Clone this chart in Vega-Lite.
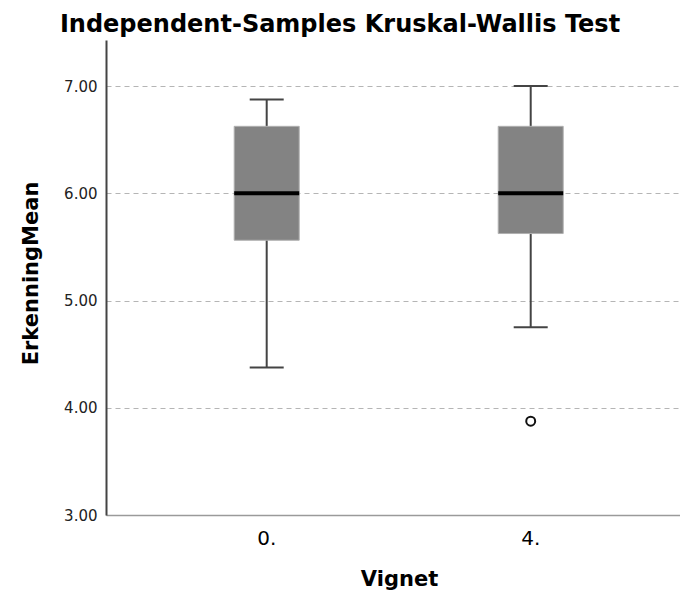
{
  "$schema": "https://vega.github.io/schema/vega-lite/v6.json",
  "autosize": "none",
  "width": 574,
  "height": 475,
  "padding": {"left": 106, "top": 40, "right": 0, "bottom": 77},
  "background": "white",
  "title": {
    "text": "Independent-Samples Kruskal-Wallis Test",
    "font": "DejaVu Sans",
    "fontSize": 24,
    "fontWeight": "bold",
    "color": "#000000",
    "anchor": "middle",
    "baseline": "alphabetic",
    "offset": 8,
    "dx": -53,
    "dy": 24
  },
  "config": {
    "view": {"stroke": null},
    "font": "DejaVu Sans"
  },
  "datasets": {
    "stats": [
      {"Vignet": "0.", "lower": 4.375, "q1": 5.5625, "median": 6.0, "q3": 6.625, "upper": 6.875},
      {"Vignet": "4.", "lower": 4.75, "q1": 5.625, "median": 6.0, "q3": 6.625, "upper": 7.0}
    ],
    "outliers": [
      {"Vignet": "4.", "value": 3.875}
    ]
  },
  "encoding": {
    "x": {
      "field": "Vignet",
      "type": "nominal",
      "sort": ["0.", "4."],
      "scale": {"type": "band", "paddingInner": 0, "paddingOuter": 0.0871, "align": 0.624},
      "axis": {
        "title": "Vignet",
        "titleFontSize": 21,
        "titleFontWeight": "bold",
        "titleColor": "#000000",
        "titleX": 293,
        "titleY": 70,
        "titleAlign": "center",
        "titleBaseline": "alphabetic",
        "labelFontSize": 20,
        "labelColor": "#000000",
        "labelAngle": 0,
        "labelPadding": 13,
        "ticks": false,
        "domainColor": "#9a9a9a",
        "domainWidth": 1.5,
        "grid": false
      }
    }
  },
  "layer": [
    {
      "data": {"name": "stats"},
      "mark": {"type": "rule", "color": "#444444", "strokeWidth": 2},
      "encoding": {
        "y": {
          "field": "lower",
          "type": "quantitative",
          "title": "ErkenningMean",
          "scale": {"domain": [3, 7.43], "nice": false, "zero": false},
          "axis": {
            "titleFontSize": 21,
            "titleFontWeight": "bold",
            "titleColor": "#000000",
            "titleX": -75,
            "titleY": 233,
            "titleAlign": "center",
            "titleBaseline": "middle",
            "values": [3, 4, 5, 6, 7],
            "format": ".2f",
            "labelFontSize": 15,
            "labelColor": "#222222",
            "labelPadding": 9,
            "ticks": false,
            "domainColor": "#444444",
            "domainWidth": 2,
            "grid": true,
            "gridColor": "#b5b5b5",
            "gridDash": [5, 4],
            "gridWidth": 1.2
          }
        },
        "y2": {"field": "upper"}
      }
    },
    {
      "data": {"name": "stats"},
      "mark": {"type": "bar", "size": 65, "fill": "#838383", "stroke": "#b0b0b0", "strokeWidth": 1},
      "encoding": {
        "y": {"field": "q1", "type": "quantitative", "title": "ErkenningMean"},
        "y2": {"field": "q3"}
      }
    },
    {
      "data": {"name": "stats"},
      "mark": {"type": "tick", "size": 65, "thickness": 4, "color": "#000000", "opacity": 1},
      "encoding": {
        "y": {"field": "median", "type": "quantitative", "title": "ErkenningMean"}
      }
    },
    {
      "data": {"name": "stats"},
      "mark": {"type": "tick", "size": 34, "thickness": 2, "color": "#444444", "opacity": 1},
      "encoding": {
        "y": {"field": "lower", "type": "quantitative", "title": "ErkenningMean"}
      }
    },
    {
      "data": {"name": "stats"},
      "mark": {"type": "tick", "size": 34, "thickness": 2, "color": "#444444", "opacity": 1},
      "encoding": {
        "y": {"field": "upper", "type": "quantitative", "title": "ErkenningMean"}
      }
    },
    {
      "data": {"name": "outliers"},
      "mark": {"type": "point", "shape": "circle", "filled": false, "size": 80, "strokeWidth": 2, "color": "#111111", "opacity": 1},
      "encoding": {
        "y": {"field": "value", "type": "quantitative", "title": "ErkenningMean"}
      }
    }
  ]
}
